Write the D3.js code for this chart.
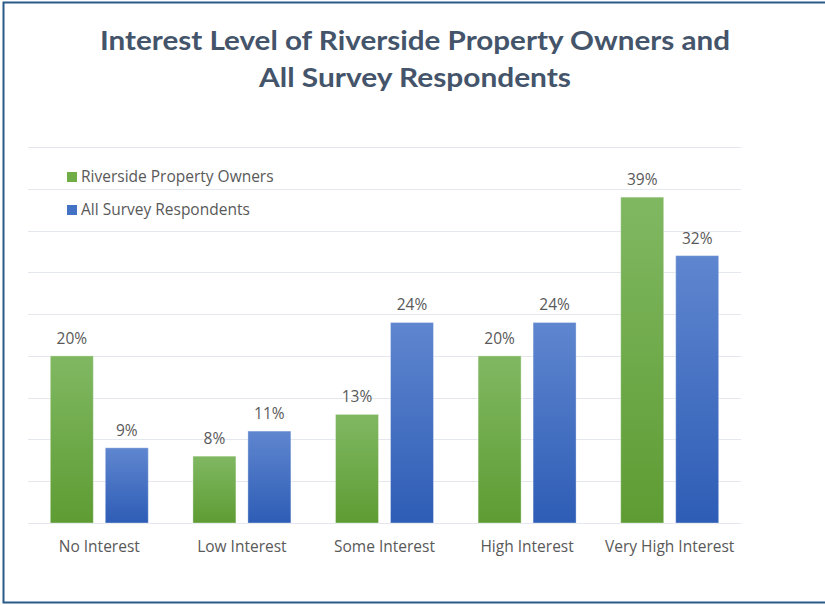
<!DOCTYPE html>
<html><head><meta charset="utf-8">
<script src="https://cdn.jsdelivr.net/npm/d3@7"></script>
<style>
html,body{margin:0;padding:0;background:#fff;}
svg{display:block;}
text{font-family:"Open Sans",Lato,sans-serif;}
</style></head>
<body>
<script>
const categories = ["No Interest","Low Interest","Some Interest","High Interest","Very High Interest"];
const seriesNames = ["Riverside Property Owners","All Survey Respondents"];
const riversideOwners = [20, 8, 13, 20, 39];
const allRespondents = [9, 11, 24, 24, 32];
const gridTicks = [0,5,10,15,20,25,30,35,40,45];
const titleLines = ["Interest Level of Riverside Property Owners and","All Survey Respondents"];

const W = 825, H = 605;
const svg = d3.select("body").append("svg").attr("width", W).attr("height", H);

const defs = svg.append("defs");
const grads = [
  {id:"gG", top:"#80b862", bot:"#5e9c33"},
  {id:"gB", top:"#5f86cf", bot:"#2e5db6"}
];
grads.forEach(g => {
  const lg = defs.append("linearGradient").attr("id", g.id).attr("x1",0).attr("y1",0).attr("x2",0).attr("y2",1);
  lg.append("stop").attr("offset","0%").attr("stop-color", g.top);
  lg.append("stop").attr("offset","100%").attr("stop-color", g.bot);
});

// frame
svg.append("path").attr("d", `M826,2.5 H3.5 V602.5 H826`).attr("fill","none").attr("stroke","#2a5a88").attr("stroke-width",2);

// title
svg.append("g").selectAll("text").data(titleLines).join("text")
  .attr("x", 415).attr("y", (d,i) => 50 + i*37)
  .attr("text-anchor","middle")
  .attr("font-size", 27).attr("font-weight", "bold")
  .attr("fill", "#44546a")
  .style("font-family", "Lato,sans-serif")
  .attr("textLength", (d,i) => i === 0 ? 630 : 312)
  .attr("lengthAdjust","spacingAndGlyphs")
  .text(d => d);

const x0 = d3.scaleBand().domain(categories).range([28, 741]).paddingInner(0.313).paddingOuter(0.1565);
const x1 = d3.scaleBand().domain(seriesNames).range([0, x0.bandwidth()]).paddingInner(0.218).paddingOuter(0);
const y = d3.scaleLinear().domain([0, 45]).range([523, 147]);

// gridlines
svg.append("g").selectAll("line").data(gridTicks).join("line")
  .attr("x1", 28).attr("x2", 741)
  .attr("y1", d => Math.round(y(d)) + 0.5).attr("y2", d => Math.round(y(d)) + 0.5)
  .attr("stroke", "#e4e8ee").attr("stroke-width", 1);

const data = categories.map((c,i) => ({cat:c, vals:[
  {s:seriesNames[0], v:riversideOwners[i], f:"url(#gG)"},
  {s:seriesNames[1], v:allRespondents[i], f:"url(#gB)"}
]}));

const groups = svg.append("g").selectAll("g").data(data).join("g")
  .attr("transform", d => `translate(${x0(d.cat)},0)`);

groups.selectAll("rect").data(d => d.vals).join("rect")
  .attr("x", d => x1(d.s)).attr("width", x1.bandwidth())
  .attr("y", d => y(d.v)).attr("height", d => y(0) - y(d.v))
  .attr("fill", d => d.f)
  .attr("stroke", "rgba(255,255,255,0.35)").attr("stroke-width", 1);

groups.selectAll("text.val").data(d => d.vals).join("text").attr("class","val")
  .attr("x", d => x1(d.s) + x1.bandwidth()/2)
  .attr("y", d => y(d.v) - 12)
  .attr("text-anchor","middle").attr("font-size", 15.5).attr("fill", "#595959")
  .text(d => d.v + "%");

// category axis labels
svg.append("g").selectAll("text").data(categories).join("text")
  .attr("x", d => x0(d) + x0.bandwidth()/2).attr("y", 552)
  .attr("text-anchor","middle").attr("font-size", 15.5).attr("fill", "#595959")
  .text(d => d);

// legend
const leg = svg.append("g").selectAll("g").data(seriesNames).join("g")
  .attr("transform", (d,i) => `translate(67,${172 + i*33})`);
leg.append("rect").attr("width", 10).attr("height", 10)
  .attr("fill", (d,i) => i === 0 ? "#70ad47" : "#4472c4");
leg.append("text").attr("x", 14).attr("y", 10).attr("font-size", 15.5).attr("fill", "#595959").text(d => d);
</script>
</body></html>
